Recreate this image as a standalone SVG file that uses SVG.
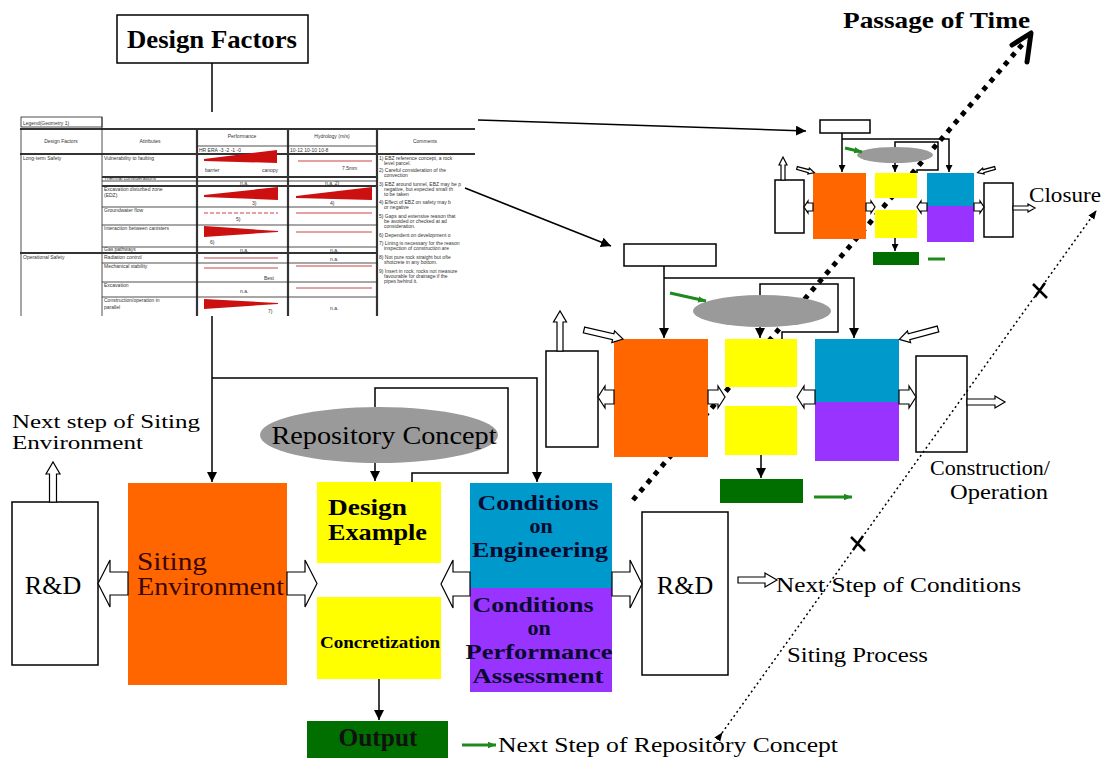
<svg xmlns="http://www.w3.org/2000/svg" width="1103" height="760" viewBox="0 0 1103 760">
<style>
text{font-family:"Liberation Serif","Times New Roman",serif;fill:#000}
.box{fill:#fff;stroke:#000;stroke-width:1.5}
.or{fill:#FF6600}.ye{fill:#FFFF00}.bl{fill:#0099CC}.pu{fill:#9933FF}.gr{fill:#006F00}.el{fill:#9A9A9A}
.ln{fill:none;stroke:#000;stroke-width:1.5}
.ho{fill:#fff;stroke:#000;stroke-width:1.2}
.gl{fill:none;stroke:#1E8A1E;stroke-width:3}
.tb{fill:none;stroke:#222;stroke-width:0.8}
.tk{fill:none;stroke:#333;stroke-width:2.2}
.tt{font-family:"Liberation Sans",Arial,sans-serif;font-size:5px;fill:#333}
.rw{fill:#CC1010}
.rl{stroke:#C44;stroke-width:1.2}
.big{font-size:26px}
.lab{font-size:20px}
.nv{fill:#0A0A30;font-weight:bold;font-size:22px}
</style>
<defs>
<marker id="ah" viewBox="0 0 10 10" refX="10" refY="5" markerWidth="10" markerHeight="10" markerUnits="userSpaceOnUse" orient="auto"><path d="M0,0 L10,5 L0,10 z" fill="#000"/></marker>
<marker id="ahs" viewBox="0 0 10 10" refX="10" refY="5" markerWidth="7" markerHeight="7" markerUnits="userSpaceOnUse" orient="auto"><path d="M0,0 L10,5 L0,10 z" fill="#000"/></marker>
<marker id="ag" viewBox="0 0 10 10" refX="10" refY="5" markerWidth="8" markerHeight="8" markerUnits="userSpaceOnUse" orient="auto"><path d="M0,1 L10,5 L0,9 z" fill="#1E8A1E"/></marker>
<marker id="ad" viewBox="0 0 10 10" refX="9" refY="5" markerWidth="9" markerHeight="9" markerUnits="userSpaceOnUse" orient="auto"><path d="M0,1 L10,5 L0,9 z" fill="#000"/></marker>
</defs>
<rect width="1103" height="760" fill="#fff"/>

<!-- time axis (behind) -->
<g id="time-axis">
<path d="M633,500 L1026,40" fill="none" stroke="#000" stroke-width="5" stroke-dasharray="5 6"/>
<path d="M1012,45 L1031,33 L1027,62" fill="none" stroke="#000" stroke-width="5" stroke-linejoin="round" stroke-linecap="round"/>
<text x="843" y="28" font-size="23" font-weight="bold" textLength="187" lengthAdjust="spacingAndGlyphs">Passage of Time</text>
</g>

<!-- Design Factors -->
<g id="design-factors">
<rect class="box" x="117" y="15" width="191" height="48"/>
<text x="212" y="48" class="big" font-weight="bold" text-anchor="middle" textLength="170" lengthAdjust="spacingAndGlyphs">Design Factors</text>
</g>

<!-- Table -->
<g id="design-factors-table">
<rect x="20" y="112" width="455" height="204" fill="#fff"/>
<rect class="tb" x="21" y="117" width="81" height="10"/>
<text class="tt" x="23" y="124.5">Legend(Geometry 1)</text>
<line class="tk" x1="20" y1="129" x2="475" y2="129"/>
<line class="tk" x1="20" y1="154" x2="475" y2="154"/>
<line class="tb" x1="21" y1="129" x2="21" y2="316"/>
<line class="tb" x1="102" y1="117" x2="102" y2="316"/>
<line class="tk" x1="197" y1="129" x2="197" y2="316" stroke-width="1.3"/>
<line class="tk" x1="288" y1="129" x2="288" y2="316" stroke-width="1.3"/>
<line class="tk" x1="377" y1="129" x2="377" y2="316" stroke-width="1.3"/>
<line class="tb" x1="197" y1="146" x2="377" y2="146"/>
<line class="tk" x1="102" y1="177" x2="377" y2="177" stroke-width="1.5"/>
<line class="tb" x1="102" y1="181" x2="377" y2="181"/>
<line class="tk" x1="102" y1="186" x2="377" y2="186" stroke-width="1.3"/>
<line class="tb" x1="102" y1="207" x2="377" y2="207"/>
<line class="tb" x1="102" y1="225" x2="377" y2="225"/>
<line class="tb" x1="102" y1="247" x2="377" y2="247"/>
<line class="tk" x1="20" y1="253" x2="377" y2="253" stroke-width="1.3"/>
<line class="tb" x1="102" y1="263" x2="377" y2="263"/>
<line class="tb" x1="102" y1="282" x2="377" y2="282"/>
<line class="tb" x1="102" y1="297" x2="377" y2="297"/>
<text class="tt" x="61" y="143" text-anchor="middle">Design Factors</text>
<text class="tt" x="150" y="143" text-anchor="middle">Attributes</text>
<text class="tt" x="242" y="138" text-anchor="middle">Performance</text>
<text class="tt" x="332" y="138" text-anchor="middle">Hydrology (m/s)</text>
<text class="tt" x="425" y="143" text-anchor="middle">Comments</text>
<text class="tt" x="199" y="152" font-size="4">HR   ERA   -3    -2    -1    -0</text>
<text class="tt" x="290" y="152" font-size="4">10-12            10-10            10-8</text>
<text class="tt" x="23" y="160">Long-term Safety</text>
<text class="tt" x="23" y="259">Operational Safety</text>
<text class="tt" x="104" y="160">Vulnerability to faulting</text>
<text class="tt" x="104" y="180">Thermal considerations</text>
<text class="tt" x="104" y="191">Excavation disturbed zone</text>
<text class="tt" x="104" y="197">(EDZ)</text>
<text class="tt" x="104" y="212">Groundwater flow</text>
<text class="tt" x="104" y="230">Interaction between canisters</text>
<text class="tt" x="104" y="251">Gas pathways</text>
<text class="tt" x="104" y="259">Radiation control</text>
<text class="tt" x="104" y="268">Mechanical stability</text>
<text class="tt" x="104" y="287">Excavation</text>
<text class="tt" x="104" y="302">Construction/operation in</text>
<text class="tt" x="104" y="309">parallel</text>
<polygon class="rw" points="204,159 277,150 277,163 204,161"/>
<text class="tt" x="205" y="172">barrier</text><text class="tt" x="262" y="172">canopy</text>
<line class="rl" x1="298" y1="161" x2="372" y2="161"/>
<text class="tt" x="342" y="170">7.5mm</text>
<text class="tt" x="240" y="185">n.a.</text><text class="tt" x="325" y="185">n.a. 2)</text>
<polygon class="rw" points="204,195 278,187 278,200 204,197"/>
<polygon class="rw" points="296,196 372,187 372,200 296,198"/>
<text class="tt" x="252" y="205">3)</text><text class="tt" x="330" y="205">4)</text>
<line class="rl" x1="204" y1="213" x2="278" y2="213" stroke-dasharray="4 2"/>
<line class="rl" x1="296" y1="213" x2="372" y2="213"/>
<text class="tt" x="236" y="221">5)</text>
<polygon class="rw" points="204,226 204,237 278,232 278,231"/>
<line class="rl" x1="296" y1="232" x2="372" y2="232"/>
<text class="tt" x="210" y="244">6)</text>
<text class="tt" x="240" y="252">n.a.</text><text class="tt" x="330" y="252">n.a.</text>
<line class="rl" x1="204" y1="258" x2="278" y2="258"/>
<text class="tt" x="330" y="261">n.a.</text>
<line class="rl" x1="204" y1="268" x2="278" y2="268" stroke="#999"/>
<line class="rl" x1="296" y1="266" x2="372" y2="266"/>
<text class="tt" x="264" y="280">Best</text>
<text class="tt" x="240" y="293">n.a.</text>
<line class="rl" x1="296" y1="288" x2="372" y2="288"/>
<polygon class="rw" points="204,299 204,309 278,304 278,303"/>
<text class="tt" x="268" y="313">7)</text><text class="tt" x="330" y="310">n.a.</text>
<g class="tt">
<text class="tt" x="379" y="160">1) EBZ reference concept, a rock</text>
<text class="tt" x="384" y="165">level parcel.</text>
<text class="tt" x="379" y="172">2) Careful consideration of the</text>
<text class="tt" x="384" y="177">convection</text>
<text class="tt" x="379" y="186">3) EBZ around tunnel, EBZ may be p</text>
<text class="tt" x="384" y="191">negative, but expected small th</text>
<text class="tt" x="384" y="196">to be taken</text>
<text class="tt" x="379" y="204">4) Effect of EBZ on safety may b</text>
<text class="tt" x="384" y="209">or negative</text>
<text class="tt" x="379" y="218">5) Gaps and extensive reason that</text>
<text class="tt" x="384" y="223">be avoided or checked at ad</text>
<text class="tt" x="384" y="228">consideration.</text>
<text class="tt" x="379" y="237">6) Dependent on development o</text>
<text class="tt" x="379" y="245">7) Lining is necessary for the reason</text>
<text class="tt" x="384" y="250">inspection of construction are</text>
<text class="tt" x="379" y="259">8) Not pure rock straight but ofte</text>
<text class="tt" x="384" y="264">shotcrete in any bottom.</text>
<text class="tt" x="379" y="273">9) Insert in rock, rocks not measure</text>
<text class="tt" x="384" y="278">favourable for drainage if the</text>
<text class="tt" x="384" y="283">pipes behind it.</text>
</g>
</g>

<!-- Main (siting) diagram nodes -->
<g id="rd-left">
<rect class="box" x="12" y="502" width="86" height="163"/>
<text x="53" y="594" class="big" text-anchor="middle">R&amp;D</text>
</g>
<g id="next-siting-env">
<path class="ho" d="M49.5,502 V474 H46 L53,462 L60,474 H56.5 V502 Z"/>
<text x="12" y="428" font-size="19" textLength="188" lengthAdjust="spacingAndGlyphs">Next step of Siting</text>
<text x="12" y="449" font-size="19" textLength="131" lengthAdjust="spacingAndGlyphs">Environment</text>
</g>
<g id="siting-environment">
<rect class="or" x="128" y="483" width="159" height="202"/>
<text x="137" y="570" font-size="25" style="fill:#3A0505" textLength="70" lengthAdjust="spacingAndGlyphs">Siting</text>
<text x="137" y="595" font-size="25" style="fill:#3A0505" textLength="147" lengthAdjust="spacingAndGlyphs">Environment</text>
</g>
<g id="repository-concept">
<ellipse class="el" cx="379" cy="435" rx="119" ry="28"/>
<text x="384" y="444" class="big" text-anchor="middle" textLength="225" lengthAdjust="spacingAndGlyphs">Repository Concept</text>
</g>
<g id="design-example">
<rect class="ye" x="317" y="482" width="124" height="81"/>
<text x="328" y="515" font-size="23" font-weight="bold" textLength="79" lengthAdjust="spacingAndGlyphs">Design</text>
<text x="328" y="540" font-size="23" font-weight="bold" textLength="99" lengthAdjust="spacingAndGlyphs">Example</text>
</g>
<g id="concretization">
<rect class="ye" x="317" y="597" width="124" height="82"/>
<text x="380" y="648" font-size="17" font-weight="bold" text-anchor="middle" textLength="120" lengthAdjust="spacingAndGlyphs">Concretization</text>
</g>
<g id="output">
<rect class="gr" x="307" y="721" width="141" height="37"/>
<text x="378" y="746" font-size="25" font-weight="bold" text-anchor="middle" style="fill:#111" textLength="79" lengthAdjust="spacingAndGlyphs">Output</text>
</g>
<g id="conditions-engineering">
<rect class="bl" x="470" y="483" width="142" height="105"/>
<text x="538" y="510" class="nv" text-anchor="middle" textLength="121" lengthAdjust="spacingAndGlyphs">Conditions</text>
<text x="541" y="533" class="nv" text-anchor="middle">on</text>
<text x="540" y="557" class="nv" text-anchor="middle" textLength="136" lengthAdjust="spacingAndGlyphs">Engineering</text>
</g>
<g id="conditions-performance">
<rect class="pu" x="470" y="588" width="142" height="104"/>
<text x="533" y="612" class="nv" text-anchor="middle" textLength="121" lengthAdjust="spacingAndGlyphs">Conditions</text>
<text x="539" y="635" class="nv" text-anchor="middle">on</text>
<text x="539" y="659" class="nv" text-anchor="middle" textLength="147" lengthAdjust="spacingAndGlyphs">Performance</text>
<text x="538" y="683" class="nv" text-anchor="middle" textLength="131" lengthAdjust="spacingAndGlyphs">Assessment</text>
</g>
<g id="rd-right">
<rect class="box" x="642" y="512" width="86" height="163"/>
<text x="685" y="594" class="big" text-anchor="middle">R&amp;D</text>
</g>
<g id="next-step-conditions">
<text x="776" y="592" class="lab" textLength="245" lengthAdjust="spacingAndGlyphs">Next Step of Conditions</text>
</g>
<g id="next-step-repository">
<text x="498" y="752" class="lab" textLength="340" lengthAdjust="spacingAndGlyphs">Next Step of Repository Concept</text>
</g>

<!-- Middle (construction/operation) diagram nodes -->
<g id="mid-design-factors"><rect class="box" x="624" y="244" width="92" height="22"/></g>
<g id="mid-rd-left"><rect class="box" x="546" y="351" width="52" height="96"/></g>
<g id="mid-siting"><rect class="or" x="614" y="339" width="94" height="118"/></g>
<g id="mid-concept"><ellipse class="el" cx="762" cy="311" rx="69" ry="16"/></g>
<g id="mid-design"><rect class="ye" x="725" y="339" width="72" height="48"/><rect class="ye" x="725" y="406" width="72" height="49"/></g>
<g id="mid-conditions"><rect class="bl" x="815" y="339" width="84" height="63"/><rect class="pu" x="815" y="402" width="84" height="59"/></g>
<g id="mid-rd-right"><rect class="box" x="916" y="356" width="51" height="96"/></g>
<g id="mid-output"><rect class="gr" x="720" y="479" width="83" height="24"/></g>
<g id="construction-operation-label">
<text x="930" y="475" class="lab" textLength="120" lengthAdjust="spacingAndGlyphs">Construction/</text>
<text x="950" y="499" class="lab" textLength="98" lengthAdjust="spacingAndGlyphs">Operation</text>
</g>

<!-- Top (closure) diagram nodes -->
<g id="top-design-factors"><rect class="box" x="820" y="120" width="50" height="13"/></g>
<g id="top-rd-left"><rect class="box" x="775" y="180" width="29" height="53"/></g>
<g id="top-siting"><rect class="or" x="813" y="173" width="53" height="66"/></g>
<g id="top-concept"><ellipse class="el" cx="895" cy="155" rx="38" ry="8"/></g>
<g id="top-design"><rect class="ye" x="875" y="173" width="42" height="25"/><rect class="ye" x="875" y="210" width="42" height="28"/></g>
<g id="top-conditions"><rect class="bl" x="927" y="173" width="47" height="33"/><rect class="pu" x="927" y="206" width="47" height="36"/></g>
<g id="top-rd-right"><rect class="box" x="984" y="183" width="29" height="54"/></g>
<g id="top-output"><rect class="gr" x="873" y="252" width="46" height="13"/></g>
<g id="closure-label"><text x="1029" y="202" class="lab" textLength="72" lengthAdjust="spacingAndGlyphs">Closure</text></g>

<!-- Connectors -->
<g id="connectors">
<path class="ln" d="M212,63 V112"/>
<path class="ln" d="M212,316 V482" marker-end="url(#ah)"/>
<path class="ln" d="M212,378 H537 V482" marker-end="url(#ah)"/>
<path class="ln" d="M412,482 V473 H508 V388 H375 V407"/>
<path class="ln" d="M375,463 V481" marker-end="url(#ah)"/>
<path class="ln" d="M379,679 V720" marker-end="url(#ah)"/>
<path class="ho" d="M128,572 H110 V560 L98,583.5 L110,607 V595 H128 Z"/>
<path class="ho" d="M287,572 H305 V560 L317,583.5 L305,607 V595 H287 Z"/>
<path class="ho" d="M470,572 H453 V560 L441,584 L453,608 V596 H470 Z"/>
<path class="ho" d="M612,572 H630 V560 L642,584 L630,608 V596 H612 Z"/>
<path class="ho" d="M738,577 H765 V573 L777,580 L765,587 V583 H738 Z"/>
<path class="gl" d="M462,745 H496" marker-end="url(#ag)"/>
<path class="ln" d="M478,120 L806,131" marker-end="url(#ah)"/>
<path class="ln" d="M465,188 L611,246" marker-end="url(#ah)"/>
<path class="ln" d="M664,266 V338" marker-end="url(#ah)"/>
<path class="ln" d="M664,278 H854 V338" marker-end="url(#ah)"/>
<path class="ln" d="M782,339 V332 H838 V284 H760 V295"/>
<path class="ln" d="M760,327 V338" marker-end="url(#ah)"/>
<path class="ln" d="M761,455 V478" marker-end="url(#ah)"/>
<path class="gl" d="M670,293 L706,301" marker-end="url(#ag)"/>
<path class="gl" d="M814,497 H852" marker-end="url(#ag)"/>
<path class="ho" d="M557,351 V322 H553.5 L560,311 L566.5,322 H563 V351 Z"/>
<path class="ho" transform="translate(584,330) rotate(13)" d="M0,-3 H30 V-6 L40,0 L30,6 V3 H0 Z"/>
<path class="ho" transform="translate(938,329) rotate(165)" d="M0,-3 H30 V-6 L40,0 L30,6 V3 H0 Z"/>
<path class="ho" d="M614,390 H605 V386 L598,397 L605,408 V404 H614 Z"/>
<path class="ho" d="M708,390 H718 V386 L725,397 L718,408 V404 H708 Z"/>
<path class="ho" d="M815,390 H804 V386 L797,397 L804,408 V404 H815 Z"/>
<path class="ho" d="M899,390 H909 V386 L916,397 L909,408 V404 H899 Z"/>
<path class="ho" d="M967,399 H995 V396 L1005,402 L995,408 V405 H967 Z"/>
<path class="ln" d="M842,133 V172" marker-end="url(#ahs)"/>
<path class="ln" d="M842,139 H949 V172" marker-end="url(#ahs)"/>
<path class="ln" d="M917,173 V170 H938 V142 H895 V147"/>
<path class="ln" d="M895,163 V172" marker-end="url(#ahs)"/>
<path class="ln" d="M895,238 V251" marker-end="url(#ahs)"/>
<path class="gl" d="M845,148 L862,152" stroke-width="2" marker-end="url(#ag)"/>
<path class="gl" d="M928,259 H945" stroke-width="1.5"/>
<path class="ho" d="M781,180 V165 H779 L783,157 L787,165 H785 V180 Z"/>
<path class="ho" transform="translate(797,168) rotate(15)" d="M0,-1.5 H12 V-3 L18,0 L12,3 V1.5 H0 Z"/>
<path class="ho" transform="translate(995,168) rotate(165)" d="M0,-1.5 H12 V-3 L18,0 L12,3 V1.5 H0 Z"/>
<path class="ho" d="M813,203 H808 V201 L804,207 L808,213 V211 H813 Z"/>
<path class="ho" d="M866,203 H871 V201 L875,207 L871,213 V211 H866 Z"/>
<path class="ho" d="M927,203 H921 V201 L917,207 L921,213 V211 H927 Z"/>
<path class="ho" d="M974,203 H980 V201 L984,207 L980,213 V211 H974 Z"/>
<path class="ho" d="M1013,206 H1028 V204 L1035,208 L1028,212 V210 H1013 Z"/>
</g>

<!-- Siting process axis -->
<g id="siting-axis">
<path d="M722,733 L1096,211" fill="none" stroke="#000" stroke-width="1.5" stroke-dasharray="2 3" marker-start="url(#ad)" marker-end="url(#ad)"/>
<path d="M1033,284 L1047,298 M1035,297 L1045,283" stroke="#000" stroke-width="2.5" fill="none"/>
<path d="M851,537 L865,551 M853,550 L863,536" stroke="#000" stroke-width="2.5" fill="none"/>
<text x="787" y="662" class="lab" textLength="141" lengthAdjust="spacingAndGlyphs">Siting Process</text>
</g>
</svg>
